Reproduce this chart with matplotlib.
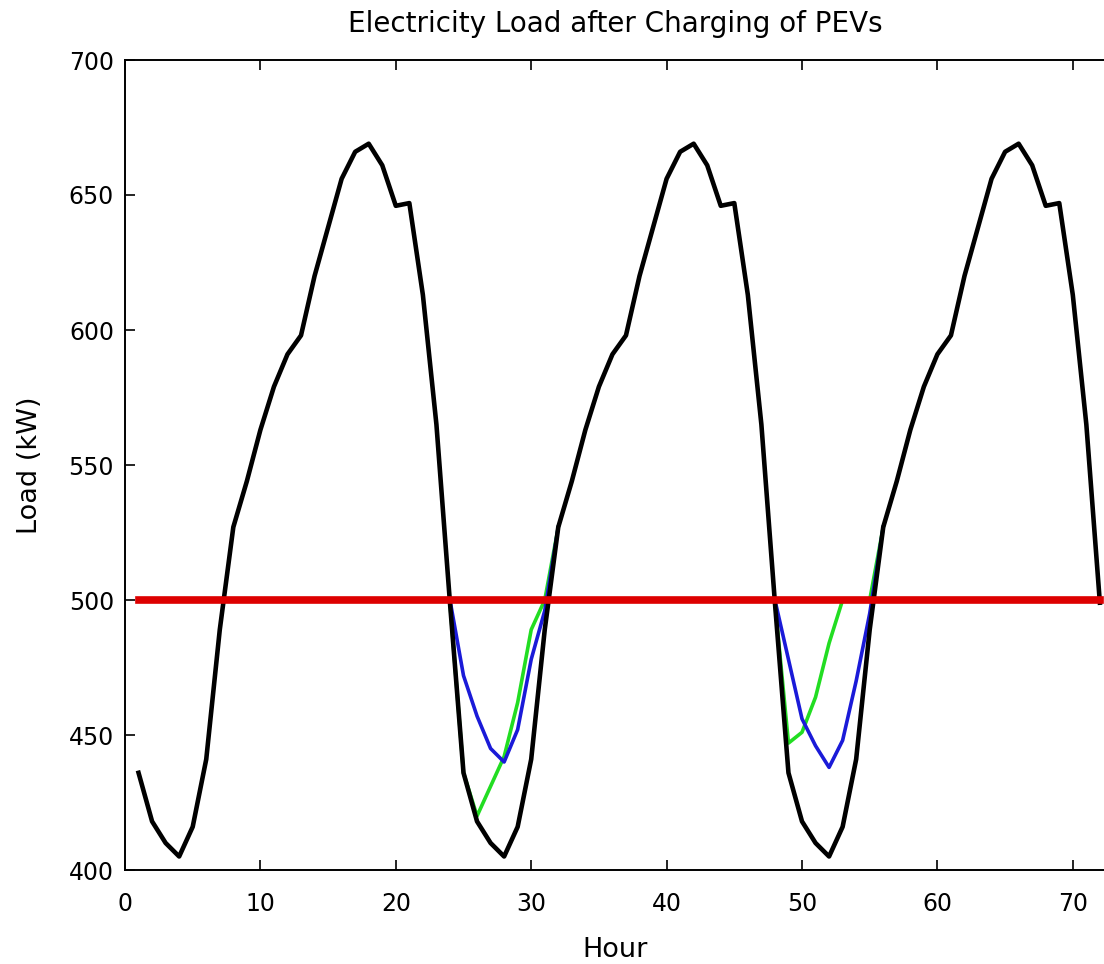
import matplotlib
matplotlib.use("Agg")
import matplotlib.pyplot as plt

# base electricity load, hours 1..72 (three identical days)
hours = list(range(1, 73))
load = [436, 418, 410, 405, 416, 441, 489, 527, 544, 563, 579, 591,
        598, 620, 638, 656, 666, 669, 661, 646, 647, 613, 565, 499,
        436, 418, 410, 405, 416, 441, 489, 527, 544, 563, 579, 591,
        598, 620, 638, 656, 666, 669, 661, 646, 647, 613, 565, 499,
        436, 418, 410, 405, 416, 441, 489, 527, 544, 563, 579, 591,
        598, 620, 638, 656, 666, 669, 661, 646, 647, 613, 565, 499]

# load after PEV charging, scheme 1 (blue)
blue_h1 = [24, 25, 26, 27, 28, 29, 30, 31, 32]
blue_v1 = [500, 472, 457, 445, 440, 452, 478, 496, 527]
blue_h2 = [48, 49, 50, 51, 52, 53, 54, 55, 56]
blue_v2 = [500, 478, 456, 446, 438, 448, 470, 495, 527]

# load after PEV charging, scheme 2 (green)
green_h1 = [24, 25, 26, 27, 28, 29, 30, 31, 32]
green_v1 = [499, 436, 420, 431, 442, 462, 489, 500, 527]
green_h2 = [48, 49, 50, 51, 52, 53, 54, 55, 56]
green_v2 = [499, 447, 451, 464, 484, 500, 500, 500, 527]

threshold = 500

plt.rcParams['font.family'] = 'DejaVu Sans'

fig = plt.figure(figsize=(11.04, 9.64), dpi=100)
# axes runs a little past the right edge (picture is cropped there)
ax = fig.add_axes([125/1104, 1 - 870/964, (1125 - 125)/1104, 810/964])

ax.plot(green_h1, green_v1, color='#22dd22', lw=2.6)
ax.plot(green_h2, green_v2, color='#22dd22', lw=2.6)
ax.plot(blue_h1, blue_v1, color='#1a1ad8', lw=2.6)
ax.plot(blue_h2, blue_v2, color='#1a1ad8', lw=2.6)
ax.plot(hours, load, color='black', lw=3.3)
ax.plot([hours[0], hours[-1]], [threshold, threshold], color='#dd0000', lw=5.5)

ax.set_xlim(0, 1000/13.54)
ax.set_ylim(400, 700)
ax.set_xticks(range(0, 80, 10))
ax.set_yticks(range(400, 701, 50))
ax.tick_params(direction='in', length=7, width=1.2, labelsize=17,
               top=True, right=True)
ax.tick_params(axis='x', pad=16)
ax.tick_params(axis='y', pad=8)
for s in ax.spines.values():
    s.set_linewidth(1.4)

ax.set_title('Electricity Load after Charging of PEVs', fontsize=20, pad=20, x=0.49)
ax.set_xlabel('Hour', fontsize=19.5, labelpad=15, x=0.49)
ax.set_ylabel('Load (kW)', fontsize=19.5, labelpad=18)

fig.savefig('out.png', dpi=100)
